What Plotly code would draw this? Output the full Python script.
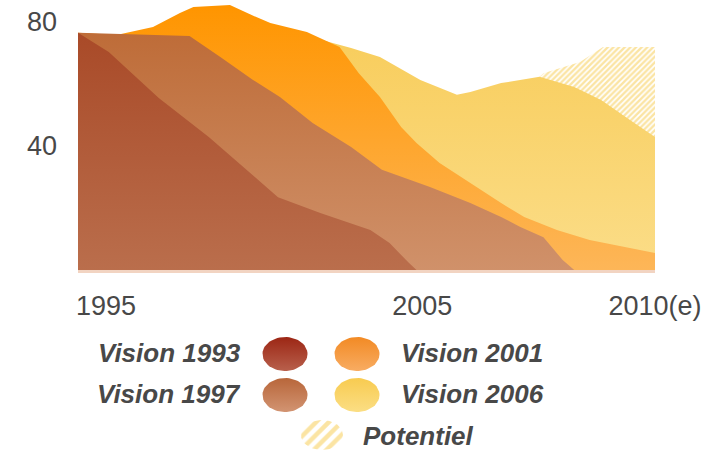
import numpy as np
import plotly.graph_objects as go

# ---------------- data ----------------
x_1993 = [1995.0, 1995.8, 1997.1, 1998.4, 2000.2, 2001.3, 2002.6, 2003.1, 2003.6, 2003.8]
v_1993 = [76.5, 70.3, 55.5, 42.9, 23.5, 18.4, 12.9, 8.7, 2.3, 0]

x_1997 = [1995.0, 1997.9, 1998.7, 1999.55, 2000.25, 2001.1, 2002.1, 2002.9, 2004.15,
          2005.2, 2006.0, 2006.5, 2007.1, 2007.6, 2007.9]
v_1997 = [76.5, 75.5, 68.7, 61.3, 55.8, 47.4, 39.7, 32.3, 26.8, 21.6, 17.1, 13.9, 10.6, 3.2, 0]

x_2001 = [1995.0, 1996.0, 1996.95, 1997.65, 1998.0, 1998.95, 1999.5, 2000.0, 2000.95,
          2001.8, 2002.3, 2002.85, 2003.4, 2003.8, 2004.4, 2005.2, 2006.0, 2006.6,
          2007.45, 2008.3, 2009.2, 2010.0]
v_2001 = [76.5, 75.8, 78.4, 82.9, 84.8, 85.5, 82.3, 79.7, 76.8, 71.9, 63.5, 55.8, 46.1,
          41.0, 34.5, 28.1, 21.6, 17.1, 12.9, 9.7, 7.4, 5.5]

x_2006 = [1995.0, 2000.8, 2001.55, 2002.1, 2002.85, 2003.9, 2004.85, 2005.2, 2006.0,
          2007.0, 2007.9, 2008.6, 2009.35, 2010.0]
v_2006 = [75.5, 76.1, 73.5, 71.6, 68.7, 61.3, 56.5, 57.4, 60.3, 62.3, 59.0, 54.8, 48.4, 42.9]

x_pot = [2007.0, 2007.1, 2008.05, 2008.65, 2010.0]
v_pot = [62.3, 63.5, 67.1, 71.9, 71.9]

y_ticks = [40, 80]
x_tick_pos = [1995.73, 2003.95, 2010.0]
x_tick_labels = ["1995", "2005", "2010(e)"]

legend_names = ["Vision 1993", "Vision 2001", "Vision 1997", "Vision 2006"]

# ---------------- layout geometry (page pixels) ----------------
FW, FH = 722, 450
FONT = "Arial, Liberation Sans, sans-serif"
TXT = "#484848"


def px(xp):
    return xp / FW


def py(yp):
    return 1 - yp / FH


PLOT_L, PLOT_R, BASE = 78, 655, 270
PX_PER_UNIT = 3.1

grad = {
    "Vision 1993": ("#BA6E4C", "#A94A28"),
    "Vision 1997": ("#D0916A", "#BE6C38"),
    "Vision 2001": ("#FDB658", "#FF9500"),
    "Vision 2006": ("#FBDD88", "#F8CD5C"),
}
leg_grad = {
    "Vision 1993": ("#B8604C", "#9C2614"),
    "Vision 1997": ("#D29472", "#B8663A"),
    "Vision 2001": ("#F8AC62", "#F28A24"),
    "Vision 2006": ("#FBDE84", "#F8CB50"),
}

fig = go.Figure()

# potentiel (hatched), behind everything
fig.add_trace(go.Scatter(
    x=x_pot, y=v_pot, mode="lines", line=dict(width=0), fill="tozeroy",
    fillcolor="rgba(255,255,255,1)",
    fillpattern=dict(shape="/", fgcolor="#F7CA48", bgcolor="#FFFFFF", size=4, solidity=0.6),
    hoverinfo="skip", showlegend=False))

series = [("Vision 2006", x_2006, v_2006), ("Vision 2001", x_2001, v_2001),
          ("Vision 1997", x_1997, v_1997), ("Vision 1993", x_1993, v_1993)]
for name, xs, vs in series:
    lo, hi = grad[name]
    fig.add_trace(go.Scatter(
        x=xs, y=vs, mode="lines", line=dict(width=0), fill="tozeroy",
        fillgradient=dict(type="vertical", colorscale=[[0, lo], [1, hi]],
                          start=0, stop=max(vs)),
        hoverinfo="skip", showlegend=False, name=name))

# ---------------- legend built on a pixel overlay axis ----------------
t = np.linspace(0, 2 * np.pi, 60)
rx, ry = 22.5, 17
leg_pos = {  # ellipse centre (px), text x (px), anchor
    "Vision 1993": (285, 354, 243, "right"),
    "Vision 2001": (357, 354, 399, "left"),
    "Vision 1997": (285, 395, 243, "right"),
    "Vision 2006": (357, 395, 399, "left"),
}
for name in legend_names:
    cx, cy, tx, anc = leg_pos[name]
    lo, hi = leg_grad[name]
    ey = cy + ry * np.sin(t)
    fig.add_trace(go.Scatter(
        x=cx + rx * np.cos(t), y=ey, xaxis="x2", yaxis="y2", mode="lines",
        line=dict(width=0), fill="toself",
        fillgradient=dict(type="vertical", colorscale=[[0, hi], [1, lo]],
                          start=cy - ry, stop=cy + ry),
        hoverinfo="skip", showlegend=False))
    fig.add_annotation(x=px(tx), y=py(cy - 1), xref="paper", yref="paper",
                       text=name, showarrow=False, xanchor=anc, yanchor="middle",
                       font=dict(family=FONT, size=26, color=TXT, weight="bold", style="italic"))

# potentiel legend
pcx, pcy = 322, 435
fig.add_trace(go.Scatter(
    x=pcx + 21 * np.cos(t), y=pcy + 15 * np.sin(t), xaxis="x2", yaxis="y2",
    mode="lines", line=dict(width=0), fill="toself", fillcolor="#FFFFFF",
    fillpattern=dict(shape="/", fgcolor="#F7CA48", bgcolor="#FFFFFF", size=9, solidity=0.5),
    hoverinfo="skip", showlegend=False))
fig.add_annotation(x=px(361), y=py(436), xref="paper", yref="paper",
                   text="Potentiel", showarrow=False, xanchor="left", yanchor="middle",
                   font=dict(family=FONT, size=26, color=TXT, weight="bold", style="italic"))

# baseline light stripe
fig.add_shape(type="line", xref="paper", yref="paper",
              x0=px(PLOT_L), x1=px(PLOT_R), y0=py(BASE + 1.5), y1=py(BASE + 1.5),
              line=dict(color="#F2D4C2", width=3), layer="below")

fig.update_layout(
    width=FW, height=FH,
    margin=dict(l=0, r=0, t=0, b=0, autoexpand=False),
    paper_bgcolor="white", plot_bgcolor="rgba(0,0,0,0)",
    showlegend=False,
    font=dict(family=FONT, color=TXT),
    xaxis=dict(domain=[px(PLOT_L), px(PLOT_R)], range=[1995, 2010], showgrid=False,
               zeroline=False, showline=False, tickmode="array", automargin=False,
               tickvals=x_tick_pos, ticktext=x_tick_labels, ticks="",
               ticklabeloverflow="allow",
               tickfont=dict(size=27, color=TXT), ticklabelstandoff=17),
    yaxis=dict(domain=[py(BASE), 1], range=[0, BASE / PX_PER_UNIT], showgrid=False,
               zeroline=False, showline=False, tickmode="array", automargin=False,
               tickvals=y_ticks, ticktext=[str(v) for v in y_ticks], ticks="",
               ticklabeloverflow="allow",
               tickfont=dict(size=27, color=TXT), ticklabelstandoff=20),
    xaxis2=dict(domain=[0, 1], range=[0, FW], visible=False, anchor="y2"),
    yaxis2=dict(domain=[0, 1], range=[FH, 0], visible=False, anchor="x2"),
)

fig.write_html("out.html", config={"displayModeBar": False},
               post_script="document.body.style.margin='0px';")
